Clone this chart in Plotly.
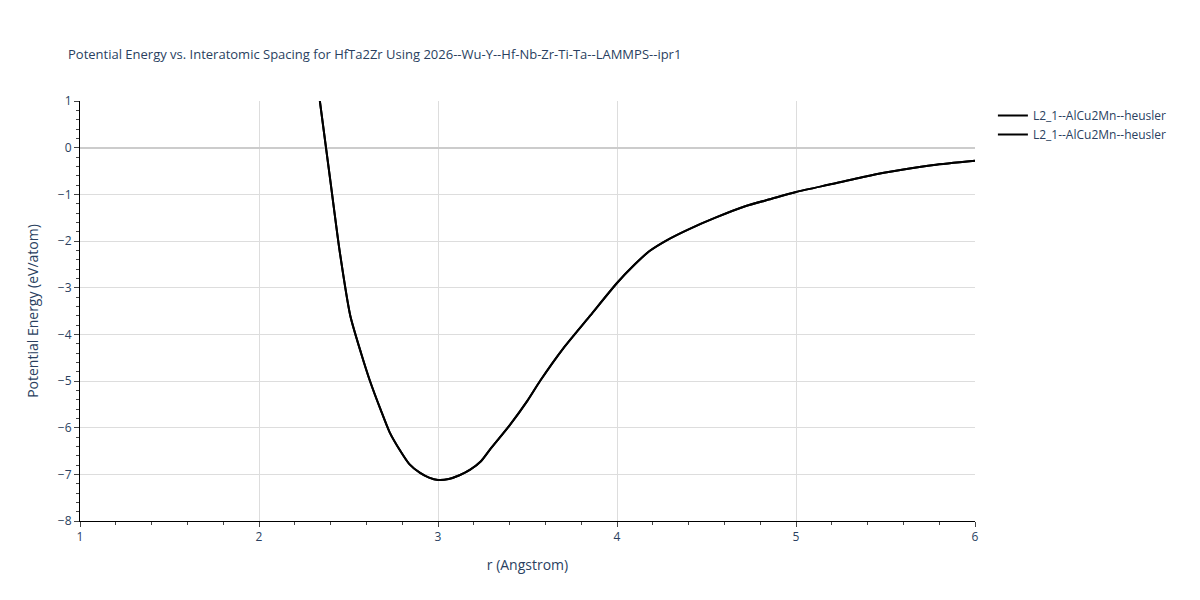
import plotly.graph_objects as go

r = [2.34, 2.4, 2.45, 2.51, 2.57, 2.62, 2.68, 2.73, 2.79, 2.84, 2.9, 2.95, 3.0, 3.06, 3.12, 3.18, 3.24, 3.29, 3.4, 3.5, 3.57, 3.7, 3.85, 4.0, 4.1, 4.18, 4.28, 4.4, 4.55, 4.72, 4.86, 5.0, 5.2, 5.41, 5.6, 5.77, 6.0]
e = [1.0, -0.75, -2.2, -3.6, -4.4, -5.0, -5.62, -6.1, -6.5, -6.78, -6.97, -7.07, -7.12, -7.1, -7.02, -6.9, -6.72, -6.47, -5.95, -5.42, -5.0, -4.3, -3.6, -2.9, -2.5, -2.22, -1.98, -1.75, -1.5, -1.25, -1.1, -0.95, -0.78, -0.6, -0.47, -0.37, -0.28]
name = "L2_1--AlCu2Mn--heusler"

fig = go.Figure()
for _ in range(2):
    fig.add_trace(go.Scatter(x=r, y=e, mode="lines", name=name,
                             line=dict(color="black", width=2, shape="spline", smoothing=0.6)))
ax = dict(showgrid=True, gridcolor="#dddddd", showline=True, linecolor="black",
          ticks="outside", minor=dict(ticks="outside", ticklen=3, showgrid=False),
          zeroline=True, zerolinecolor="#cccccc", zerolinewidth=2)
fig.update_layout(
    width=1200, height=600, plot_bgcolor="white", paper_bgcolor="white",
    title=dict(text="Potential Energy vs. Interatomic Spacing for HfTa2Zr Using 2026--Wu-Y--Hf-Nb-Zr-Ti-Ta--LAMMPS--ipr1",
               font=dict(size=13), x=0.05, y=0.93),
    xaxis=dict(title="r (Angstrom)", range=[1, 6], dtick=1, **ax),
    yaxis=dict(title="Potential Energy (eV/atom)", range=[-8, 1], dtick=1, **ax),
    margin=dict(l=72, r=233, t=93, b=87),
    legend=dict(x=1.02, y=1, yanchor="top"),
)
fig.write_html("out.html")
